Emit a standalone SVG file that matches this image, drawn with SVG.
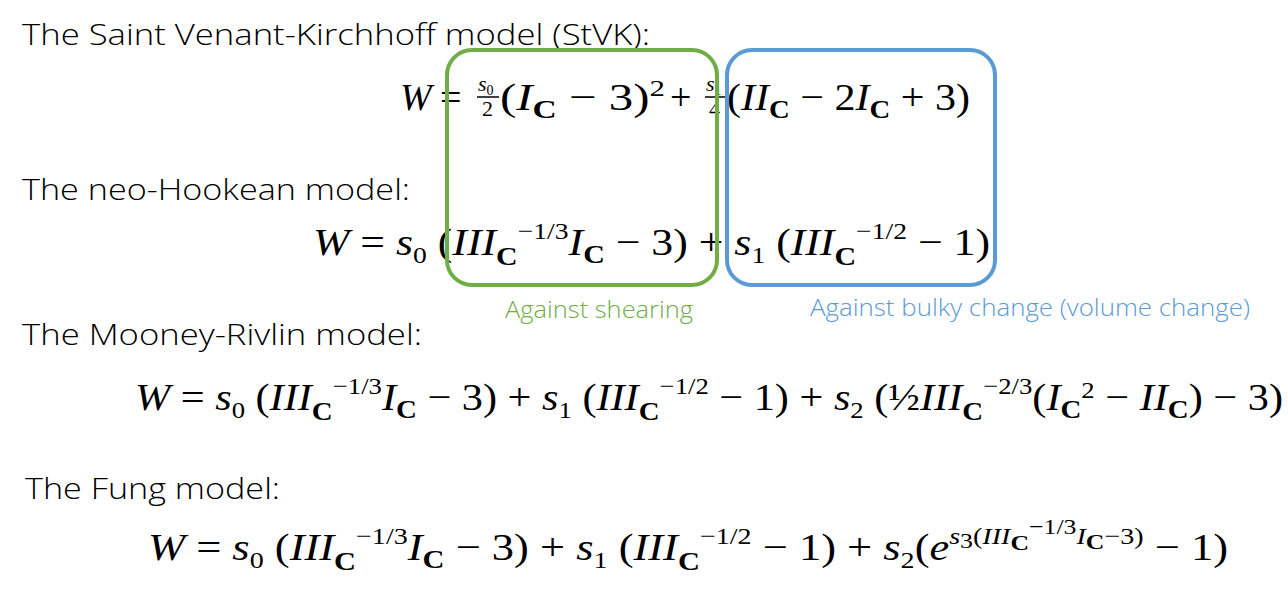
<svg xmlns="http://www.w3.org/2000/svg" width="1288" height="607" viewBox="0 0 1288 607">
<style>
.t{font-family:"Open Sans","Liberation Sans",sans-serif;font-weight:300;font-size:30px;fill:#000}
.m{font-family:"Liberation Serif",serif;font-style:italic;font-size:38px;fill:#000}
.u{font-style:normal}
.b{font-style:normal;font-weight:bold;font-size:26px}
.s{font-size:24px}
.f{font-size:22px}
.l{font-family:"Open Sans","Liberation Sans",sans-serif;font-weight:300;font-size:24px}
</style>
<rect width="1288" height="607" fill="#fff"/>
<g id="labels">
<text class="t" x="22" y="45" textLength="628" lengthAdjust="spacingAndGlyphs">The Saint Venant-Kirchhoff model (StVK):</text>
<text class="t" x="22" y="200" textLength="388" lengthAdjust="spacingAndGlyphs">The neo-Hookean model:</text>
<text class="t" x="22" y="345" textLength="400" lengthAdjust="spacingAndGlyphs">The Mooney-Rivlin model:</text>
<text class="t" x="25" y="499" textLength="255" lengthAdjust="spacingAndGlyphs">The Fung model:</text>
</g>
<g id="eq1">
<text class="m" x="400" y="110">W</text>
<text class="m u" x="440" y="110">=</text>
<text class="m f" x="478" y="91">s<tspan dy="4" font-size="14" font-style="normal">0</tspan></text>
<line x1="477" y1="97" x2="499" y2="97" stroke="#000" stroke-width="1.5"/>
<text class="m u f" x="482" y="116">2</text>
<text class="m" x="500" y="110" textLength="165" lengthAdjust="spacingAndGlyphs"><tspan class="u">(</tspan>I<tspan class="b" dy="8">C</tspan><tspan class="u" dy="-8"> − 3)</tspan><tspan class="u s" dy="-14">2</tspan></text>
<text class="m u" x="670" y="110">+</text>
<text class="m f" x="706" y="91">s<tspan dy="4" font-size="14" font-style="normal">1</tspan></text>
<line x1="705" y1="97" x2="725" y2="97" stroke="#000" stroke-width="1.5"/>
<text class="m u f" x="709" y="116">4</text>
<text class="m" x="727" y="110" textLength="243" lengthAdjust="spacingAndGlyphs"><tspan class="u">(</tspan>II<tspan class="b" dy="8">C</tspan><tspan class="u" dy="-8"> − 2</tspan>I<tspan class="b" dy="8">C</tspan><tspan class="u" dy="-8"> + 3)</tspan></text>
</g>
<g id="eq2">
<text class="m" x="313" y="255" textLength="677" lengthAdjust="spacingAndGlyphs">W <tspan class="u">=</tspan> s<tspan class="u s" dy="8">0</tspan><tspan class="u" dy="-8"> (</tspan>III<tspan class="b" dy="10">C</tspan><tspan class="s u" dy="-26">−1/3</tspan><tspan dy="16">I</tspan><tspan class="b" dy="8">C</tspan><tspan class="u" dy="-8"> − 3) + </tspan>s<tspan class="u s" dy="8">1</tspan><tspan class="u" dy="-8"> (</tspan>III<tspan class="b" dy="10">C</tspan><tspan class="s u" dy="-26">−1/2</tspan><tspan class="u" dy="16"> − 1)</tspan></text>
</g>
<g id="eq3">
<text class="m" x="135" y="410" textLength="1148" lengthAdjust="spacingAndGlyphs">W <tspan class="u">=</tspan> s<tspan class="u s" dy="8">0</tspan><tspan class="u" dy="-8"> (</tspan>III<tspan class="b" dy="10">C</tspan><tspan class="s u" dy="-26">−1/3</tspan><tspan dy="16">I</tspan><tspan class="b" dy="8">C</tspan><tspan class="u" dy="-8"> − 3) + </tspan>s<tspan class="u s" dy="8">1</tspan><tspan class="u" dy="-8"> (</tspan>III<tspan class="b" dy="10">C</tspan><tspan class="s u" dy="-26">−1/2</tspan><tspan class="u" dy="16"> − 1) + </tspan>s<tspan class="u s" dy="8">2</tspan><tspan class="u" dy="-8"> (½</tspan>III<tspan class="b" dy="10">C</tspan><tspan class="s u" dy="-26">−2/3</tspan><tspan class="u" dy="16">(</tspan>I<tspan class="b" dy="8">C</tspan><tspan class="s u" dy="-20">2</tspan><tspan class="u" dy="12"> − </tspan>II<tspan class="b" dy="8">C</tspan><tspan class="u" dy="-8">) − 3)</tspan></text>
</g>
<g id="eq4">
<text class="m" x="148" y="560" textLength="1080" lengthAdjust="spacingAndGlyphs">W <tspan class="u">=</tspan> s<tspan class="u s" dy="8">0</tspan><tspan class="u" dy="-8"> (</tspan>III<tspan class="b" dy="10">C</tspan><tspan class="s u" dy="-26">−1/3</tspan><tspan dy="16">I</tspan><tspan class="b" dy="8">C</tspan><tspan class="u" dy="-8"> − 3) + </tspan>s<tspan class="u s" dy="8">1</tspan><tspan class="u" dy="-8"> (</tspan>III<tspan class="b" dy="10">C</tspan><tspan class="s u" dy="-26">−1/2</tspan><tspan class="u" dy="16"> − 1) + </tspan>s<tspan class="u s" dy="8">2</tspan><tspan class="u" dy="-8">(</tspan>e<tspan class="s" dy="-16">s</tspan><tspan class="f u" dy="4">3</tspan><tspan class="s u" dy="-4">(</tspan><tspan class="s">III</tspan><tspan class="f b" dy="6">C</tspan><tspan class="f u" dy="-16">−1/3</tspan><tspan class="s" dy="10">I</tspan><tspan class="f b" dy="5">C</tspan><tspan class="s u" dy="-5">−3)</tspan><tspan class="u" dy="16"> − 1)</tspan></text>
</g>
<g id="shearing">
<rect x="447" y="50" width="270" height="235" rx="25" fill="none" stroke="#70AD47" stroke-width="4"/>
<text class="l" x="505" y="318" fill="#70AD47" textLength="188" lengthAdjust="spacingAndGlyphs">Against shearing</text>
</g>
<g id="bulk">
<rect x="727" y="50" width="268" height="235" rx="25" fill="none" stroke="#5B9BD5" stroke-width="4"/>
<text class="l" x="810" y="316" fill="#5B9BD5" textLength="440" lengthAdjust="spacingAndGlyphs">Against bulky change (volume change)</text>
</g>
<g id="connectors"></g>
</svg>
